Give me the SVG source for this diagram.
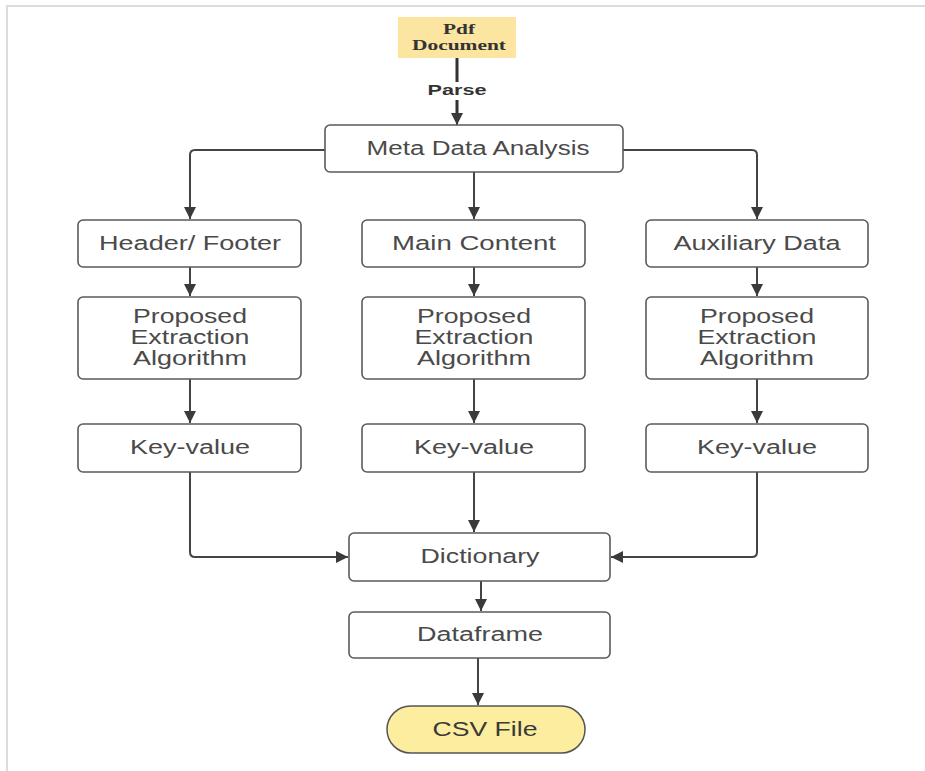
<svg xmlns="http://www.w3.org/2000/svg" width="925" height="771" viewBox="0 0 925 771">
<defs>
<style>
.box{fill:#fff;stroke:#5a5a5a;stroke-width:1.6}
.t{font-family:"Liberation Sans",Arial,sans-serif;font-size:19.5px;fill:#4a4a4a;text-anchor:middle}
.c{fill:none;stroke:#444;stroke-width:2}
.pdf{font-family:"Liberation Serif","Times New Roman",serif;font-size:14px;font-weight:bold;fill:#333;text-anchor:middle}
</style>
<marker id="ah" viewBox="0 0 10 10" refX="10" refY="5" markerWidth="6" markerHeight="6" markerUnits="strokeWidth" orient="auto">
<path d="M0,0 L10,5 L0,10 z" fill="#3a3a3a"/>
</marker>
</defs>
<rect width="925" height="771" fill="#fff"/>
<path d="M7,771 V6 H925" fill="none" stroke="#dcdcdc" stroke-width="2"/>

<g id="connectors">
<path d="M457,58 V82" fill="none" stroke="#333" stroke-width="3"/>
<path d="M457,100 V113" fill="none" stroke="#333" stroke-width="3"/>
<path d="M457,112 V125" class="c" style="stroke:#333" marker-end="url(#ah)"/>
<text x="457" y="95" font-family="Liberation Sans,Arial,sans-serif" font-size="14" font-weight="bold" fill="#333" text-anchor="middle" textLength="59" lengthAdjust="spacingAndGlyphs">Parse</text>
<path class="c" d="M325,150 H195 Q190,150 190,155 V219" marker-end="url(#ah)"/>
<path class="c" d="M474,172 V219" marker-end="url(#ah)"/>
<path class="c" d="M623,150 H752 Q757,150 757,155 V219" marker-end="url(#ah)"/>
<path class="c" d="M190,267 V296" marker-end="url(#ah)"/>
<path class="c" d="M474,267 V296" marker-end="url(#ah)"/>
<path class="c" d="M757,267 V296" marker-end="url(#ah)"/>
<path class="c" d="M190,379 V423" marker-end="url(#ah)"/>
<path class="c" d="M474,379 V423" marker-end="url(#ah)"/>
<path class="c" d="M757,379 V423" marker-end="url(#ah)"/>
<path class="c" d="M474,472 V532" marker-end="url(#ah)"/>
<path class="c" d="M190,472 V552 Q190,557 195,557 H348" marker-end="url(#ah)"/>
<path class="c" d="M757,472 V552 Q757,557 752,557 H611" marker-end="url(#ah)"/>
<path class="c" d="M481,581 V611" marker-end="url(#ah)"/>
<path class="c" d="M478,658 V705" marker-end="url(#ah)"/>
</g>

<g id="pdf-document">
<rect x="398" y="17" width="118" height="41" fill="#fbe5a0"/>
<text class="pdf" x="459" y="34" textLength="32" lengthAdjust="spacingAndGlyphs">Pdf</text>
<text class="pdf" x="459" y="50" textLength="94" lengthAdjust="spacingAndGlyphs">Document</text>
</g>

<g id="meta-data-analysis">
<rect class="box" x="325" y="125" width="298" height="47" rx="5"/>
<text class="t" x="478" y="155" textLength="223" lengthAdjust="spacingAndGlyphs">Meta Data Analysis</text>
</g>

<g id="header-footer">
<rect class="box" x="78" y="220" width="223" height="47" rx="5"/>
<text class="t" x="190" y="250" textLength="182" lengthAdjust="spacingAndGlyphs">Header/ Footer</text>
</g>
<g id="main-content">
<rect class="box" x="362" y="220" width="223" height="47" rx="5"/>
<text class="t" x="474" y="250" textLength="164" lengthAdjust="spacingAndGlyphs">Main Content</text>
</g>
<g id="auxiliary-data">
<rect class="box" x="646" y="220" width="222" height="47" rx="5"/>
<text class="t" x="757" y="250" textLength="167" lengthAdjust="spacingAndGlyphs">Auxiliary Data</text>
</g>

<g id="proposed-left">
<rect class="box" x="78" y="297" width="223" height="82" rx="5"/>
<text class="t" x="190" y="323" textLength="114" lengthAdjust="spacingAndGlyphs">Proposed</text>
<text class="t" x="190" y="344" textLength="119" lengthAdjust="spacingAndGlyphs">Extraction</text>
<text class="t" x="190" y="365" textLength="114" lengthAdjust="spacingAndGlyphs">Algorithm</text>
</g>
<g id="proposed-mid">
<rect class="box" x="362" y="297" width="223" height="82" rx="5"/>
<text class="t" x="474" y="323" textLength="114" lengthAdjust="spacingAndGlyphs">Proposed</text>
<text class="t" x="474" y="344" textLength="119" lengthAdjust="spacingAndGlyphs">Extraction</text>
<text class="t" x="474" y="365" textLength="114" lengthAdjust="spacingAndGlyphs">Algorithm</text>
</g>
<g id="proposed-right">
<rect class="box" x="646" y="297" width="222" height="82" rx="5"/>
<text class="t" x="757" y="323" textLength="114" lengthAdjust="spacingAndGlyphs">Proposed</text>
<text class="t" x="757" y="344" textLength="119" lengthAdjust="spacingAndGlyphs">Extraction</text>
<text class="t" x="757" y="365" textLength="114" lengthAdjust="spacingAndGlyphs">Algorithm</text>
</g>

<g id="key-value-left">
<rect class="box" x="78" y="424" width="223" height="48" rx="5"/>
<text class="t" x="190" y="454" textLength="120" lengthAdjust="spacingAndGlyphs">Key-value</text>
</g>
<g id="key-value-mid">
<rect class="box" x="362" y="424" width="223" height="48" rx="5"/>
<text class="t" x="474" y="454" textLength="120" lengthAdjust="spacingAndGlyphs">Key-value</text>
</g>
<g id="key-value-right">
<rect class="box" x="646" y="424" width="222" height="48" rx="5"/>
<text class="t" x="757" y="454" textLength="120" lengthAdjust="spacingAndGlyphs">Key-value</text>
</g>

<g id="dictionary">
<rect class="box" x="349" y="533" width="261" height="48" rx="5"/>
<text class="t" x="480" y="563" textLength="119" lengthAdjust="spacingAndGlyphs">Dictionary</text>
</g>
<g id="dataframe">
<rect class="box" x="349" y="612" width="261" height="46" rx="5"/>
<text class="t" x="480" y="641" textLength="126" lengthAdjust="spacingAndGlyphs">Dataframe</text>
</g>
<g id="csv-file">
<rect x="387" y="706" width="198" height="47" rx="23.5" fill="#fcee9e" stroke="#555" stroke-width="1.5"/>
<text class="t" x="485" y="736" textLength="105" lengthAdjust="spacingAndGlyphs" style="fill:#3a3a3a">CSV File</text>
</g>
</svg>
